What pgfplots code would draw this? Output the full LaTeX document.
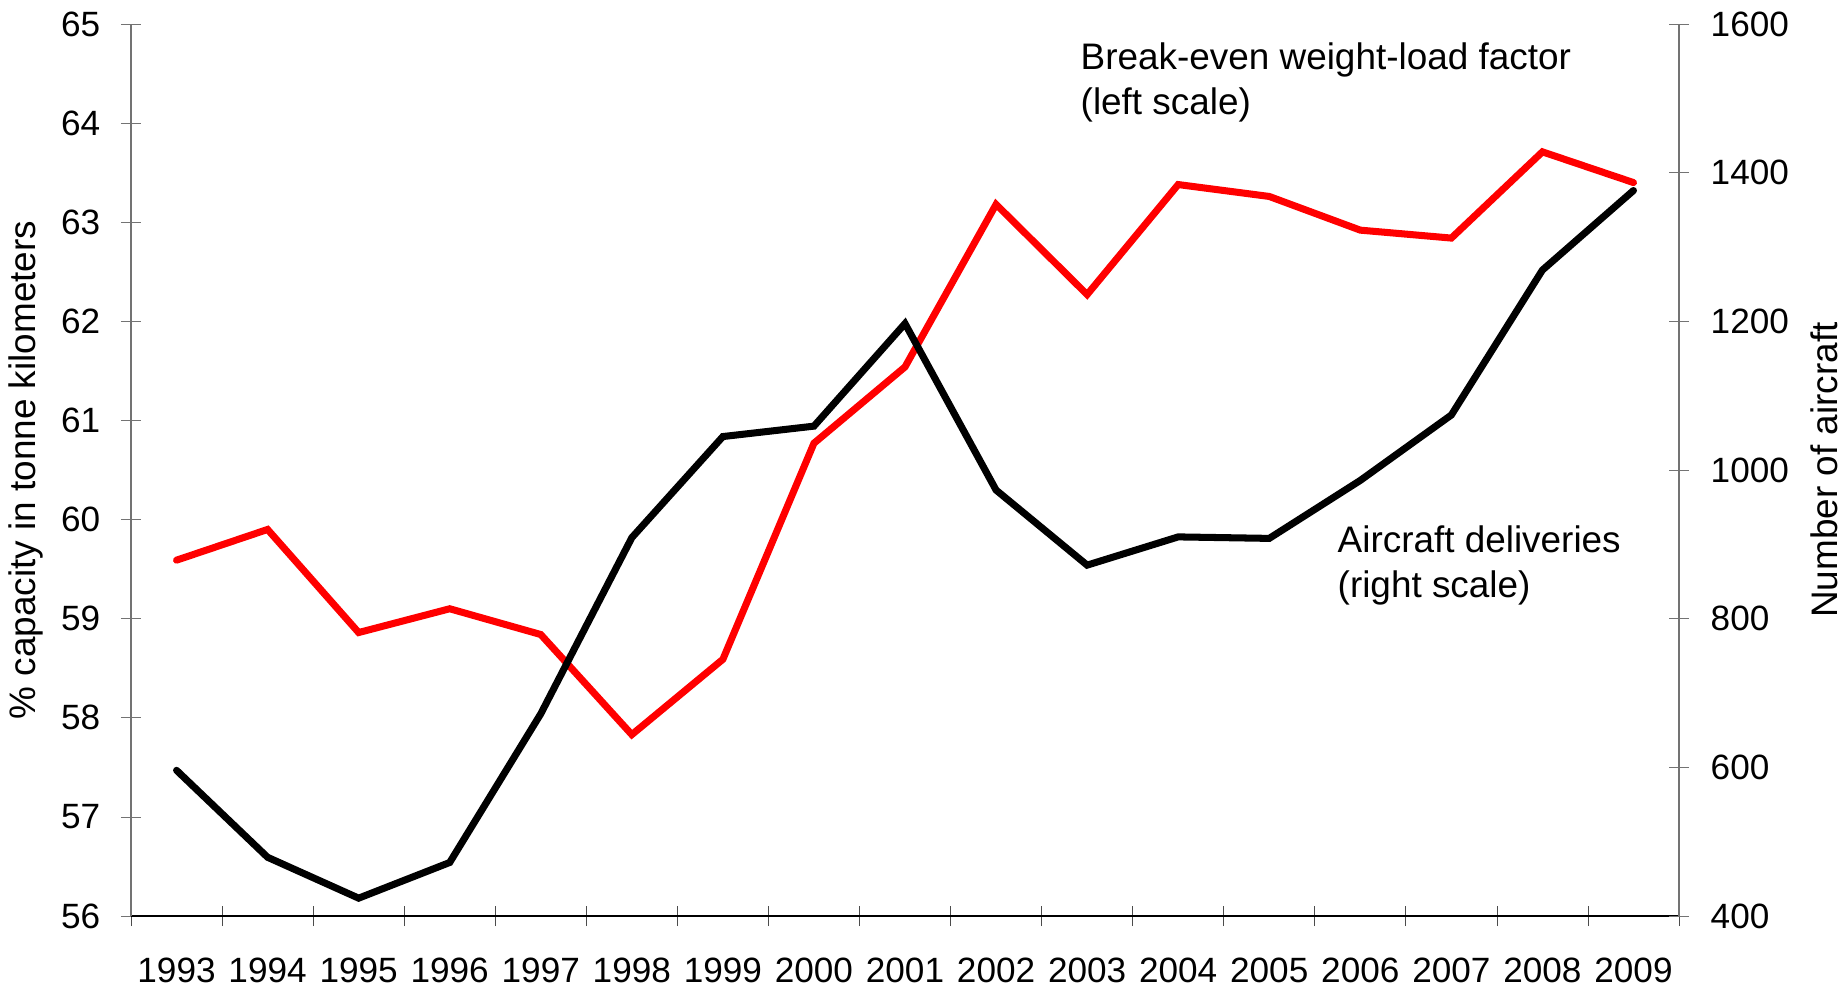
\documentclass[border=0pt]{standalone}
\usepackage{pgfplots}
\pgfplotsset{compat=1.18}
\usepackage{fontspec}
\setmainfont{Liberation Sans}
\begin{document}
\begin{tikzpicture}[font=\fontsize{10.5}{13}\selectfont]
\pgfplotsset{
  base/.style={
    width=15.48cm, height=8.92cm, scale only axis,
    at={(0,0)}, anchor=south west,
    xmin=-0.5, xmax=16.5,
    tick align=center, major tick length=0.2cm,
    /pgf/number format/assume math mode=true,
    /pgf/number format/1000 sep={},
    tick label style={font=\fontsize{10}{12}\selectfont},
    label style={font=\fontsize{10.5}{13}\selectfont},
    clip=false,
  }
}
\begin{axis}[base,
  axis y line*=left, axis x line*=bottom,
  ymin=56, ymax=65, ytick={56,57,...,65},
  xtick={-0.5,0.5,...,16.5}, x tick label as interval,
  xticklabels={1993,1994,1995,1996,1997,1998,1999,2000,2001,2002,2003,2004,2005,2006,2007,2008,2009},
  xticklabel style={anchor=base, inner sep=0pt, yshift=-0.56cm},
  yticklabel style={anchor=east, inner sep=0pt, xshift=-0.2cm},
  y axis line style={black!55}, ytick style={black!55},
  x axis line style={black}, xtick style={black!70},
  ylabel={\% capacity in tonne kilometers},
  ylabel style={at={(axis description cs:-0.0678,0.5)}, anchor=center},
]
\addplot[red, line width=2pt, line cap=round] coordinates {
(0,59.59) (1,59.90) (2,58.86) (3,59.10) (4,58.84) (5,57.83) (6,58.59) (7,60.77) (8,61.54)
(9,63.18) (10,62.27) (11,63.38) (12,63.26) (13,62.92) (14,62.84) (15,63.71) (16,63.40)
};
\end{axis}
\begin{axis}[base,
  axis y line*=right, axis x line=none,
  ymin=400, ymax=1600, ytick={400,600,...,1600},
  yticklabel style={anchor=west, inner sep=0pt, xshift=0.21cm},
  y axis line style={black!55}, ytick style={black!55},
  ylabel={Number of aircraft},
  ylabel style={at={(axis description cs:1.094,0.5)}, anchor=center},
]
\addplot[black, line width=2pt, line cap=round] coordinates {
(0,596) (1,479) (2,424) (3,472) (4,672) (5,909) (6,1045) (7,1059) (8,1197)
(9,973) (10,872) (11,910) (12,908) (13,986) (14,1074) (15,1269) (16,1376)
};
\end{axis}
\node[anchor=base west, inner sep=0pt] at (9.49,8.46) {Break-even weight-load factor};
\node[anchor=base west, inner sep=0pt] at (9.49,8.01) {(left scale)};
\node[anchor=base west, inner sep=0pt] at (12.06,3.64) {Aircraft deliveries};
\node[anchor=base west, inner sep=0pt] at (12.06,3.19) {(right scale)};
\pgfresetboundingbox
\path (-1.31,-0.71) rectangle (17.17,9.16);
\end{tikzpicture}
\end{document}
